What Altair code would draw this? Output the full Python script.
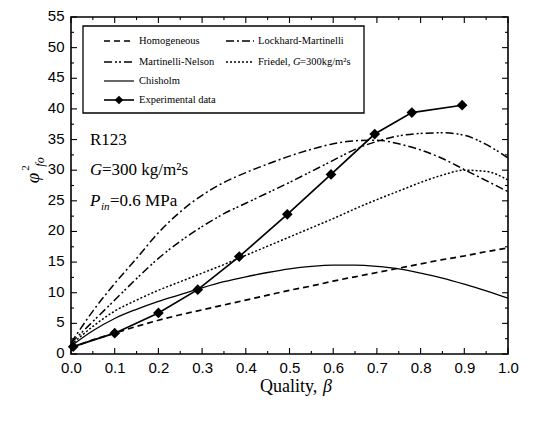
import altair as alt
import pandas as pd

# ---------------- data ----------------
beta_grid = [0.0, 0.05, 0.1, 0.15, 0.2, 0.25, 0.3, 0.35, 0.4, 0.45, 0.5,
             0.55, 0.6, 0.65, 0.7, 0.75, 0.8, 0.85, 0.9, 0.95, 1.0]
homogeneous = [1.0, 2.3, 3.4, 4.5, 5.5, 6.4, 7.2, 8.0, 8.8, 9.6, 10.4,
               11.1, 11.9, 12.6, 13.3, 14.0, 14.7, 15.4, 16.0, 16.7, 17.3]
lockhart = [1.8, 7.0, 11.5, 15.6, 19.8, 23.2, 25.9, 28.0, 29.6, 31.0, 32.3,
            33.4, 34.3, 34.8, 34.9, 34.3, 33.3, 31.9, 30.1, 28.3, 26.5]
nelson = [1.8, 5.3, 8.8, 12.3, 15.6, 18.4, 20.8, 22.9, 24.6, 26.3, 28.0,
          29.8, 31.6, 33.4, 34.7, 35.6, 36.0, 36.1, 35.7, 34.2, 32.0]
friedel = [1.5, 4.5, 7.0, 8.8, 10.4, 11.8, 13.2, 14.6, 16.1, 17.6, 19.1,
           20.6, 22.1, 23.7, 25.2, 26.6, 28.0, 29.2, 30.0, 29.8, 28.4]
chisholm = [1.3, 3.8, 5.8, 7.3, 8.6, 9.7, 10.8, 11.8, 12.6, 13.3, 13.9,
            14.3, 14.5, 14.5, 14.3, 13.9, 13.2, 12.4, 11.4, 10.3, 9.1]
exp_beta = [0.005, 0.1, 0.2, 0.29, 0.385, 0.495, 0.595, 0.695, 0.78, 0.895]
exp_phi = [1.2, 3.4, 6.7, 10.5, 15.9, 22.8, 29.3, 35.9, 39.4, 40.6]

x_major = [0.0, 0.1, 0.2, 0.3, 0.4, 0.5, 0.6, 0.7, 0.8, 0.9, 1.0]
x_minor = [0.05, 0.15, 0.25, 0.35, 0.45, 0.55, 0.65, 0.75, 0.85, 0.95]
y_major = [0, 5, 10, 15, 20, 25, 30, 35, 40, 45, 50, 55]
y_minor = [2.5, 7.5, 12.5, 17.5, 22.5, 27.5, 32.5, 37.5, 42.5, 47.5, 52.5]

W, H = 437, 337
SERIF = "Liberation Serif, Times New Roman, serif"
SANS = "Liberation Sans, Arial, sans-serif"

xs = alt.Scale(domain=[0, 1], nice=False, zero=False)
ys = alt.Scale(domain=[0, 55], nice=False)
xaxis = alt.Axis(values=x_major, format=".1f", title=None, ticks=False,
                 grid=False, domain=False, labelFlush=False, labelOverlap=False,
                 labelPadding=6, labelFont=SANS, labelFontSize=15,
                 labelColor="black")
yaxis = alt.Axis(values=y_major, title=None, ticks=False, grid=False, domain=False,
                 labelFlush=False, labelOverlap=False, labelPadding=7, labelOffset=-1.5,
                 labelFont=SANS, labelFontSize=15, labelColor="black")


def X(f):
    return alt.X(f, type="quantitative", scale=xs, axis=xaxis)


def Y(f):
    return alt.Y(f, type="quantitative", scale=ys, axis=yaxis)


def curve(vals, dash=None, width=1.4):
    df = pd.DataFrame({"beta": beta_grid, "phi": vals})
    kw = dict(color="black", strokeWidth=width, interpolate="monotone", clip=True)
    if dash:
        kw["strokeDash"] = dash
    return alt.Chart(df).mark_line(**kw).encode(x=X("beta"), y=Y("phi"))


dash_h = [6, 4]
dash_lm = [8, 3, 2, 3]
dash_mn = [8, 3, 2, 2, 2, 3]
dash_f = [2, 2]

layers = [
    curve(homogeneous, dash_h, 1.7),
    curve(lockhart, dash_lm, 1.5),
    curve(nelson, dash_mn, 1.5),
    curve(friedel, dash_f, 1.5),
    curve(chisholm, None, 1.3),
]

exp_df = pd.DataFrame({"beta": exp_beta, "phi": exp_phi})
layers.append(alt.Chart(exp_df).mark_line(color="black", strokeWidth=1.7)
              .encode(x=X("beta"), y=Y("phi")))
layers.append(alt.Chart(exp_df).mark_point(shape="diamond", filled=True, color="black",
                                           size=115, opacity=1)
              .encode(x=X("beta"), y=Y("phi")))


# inward ticks on all four sides
def xticks(vals, length):
    d = pd.DataFrame({"beta": vals})
    b = alt.Chart(d).mark_rule(color="black", strokeWidth=1.1).encode(
        x=X("beta"), y=alt.value(H), y2=alt.value(H - length))
    t = alt.Chart(d).mark_rule(color="black", strokeWidth=1.1).encode(
        x=X("beta"), y=alt.value(0), y2=alt.value(length))
    return [b, t]


def yticks(vals, length):
    d = pd.DataFrame({"phi": vals})
    l = alt.Chart(d).mark_rule(color="black", strokeWidth=1.1).encode(
        y=Y("phi"), x=alt.value(0), x2=alt.value(length))
    r = alt.Chart(d).mark_rule(color="black", strokeWidth=1.1).encode(
        y=Y("phi"), x=alt.value(W), x2=alt.value(W - length))
    return [l, r]


layers += xticks(x_major, 6) + xticks(x_minor, 3) + yticks(y_major, 6) + yticks(y_minor, 3)

one = pd.DataFrame({"a": [0]})


def txt(s, x, y, size=10.5, font=SERIF, style="normal", angle=None,
        align="left", baseline="middle"):
    kw = dict(font=font, fontSize=size, fontStyle=style, color="black",
              align=align, baseline=baseline)
    if angle is not None:
        kw["angle"] = angle
    return alt.Chart(one).mark_text(**kw).encode(
        x=alt.value(x), y=alt.value(y), text=alt.value(s))


def sample(x1, x2, y, dash=None, width=1.3):
    kw = dict(color="black", strokeWidth=width)
    if dash:
        kw["strokeDash"] = dash
    return alt.Chart(one).mark_rule(**kw).encode(
        x=alt.value(x1), x2=alt.value(x2), y=alt.value(y))


# legend box
layers.append(alt.Chart(one).mark_rect(fill="white", stroke="black", strokeWidth=1.3)
              .encode(x=alt.value(12), x2=alt.value(293), y=alt.value(9), y2=alt.value(96)))
r1, r2, r3, r4 = 24, 45, 64, 83
c1s, c1e, c1t = 33, 63, 68
c2s, c2e, c2t = 155, 183, 187
layers += [
    sample(c1s, c1e, r1, dash_h, 1.4), txt("Homogeneous", c1t, r1),
    sample(c2s, c2e, r1, dash_lm), txt("Lockhard-Martinelli", c2t, r1),
    sample(c1s, c1e, r2, dash_mn), txt("Martinelli-Nelson", c1t, r2),
    sample(c2s, c2e, r2, dash_f), txt("Friedel,", c2t, r2),
    txt("G", c2t + 35, r2, style="italic"), txt("=300kg/m²s", c2t + 42, r2),
    sample(c1s, c1e, r3, None, 1.2), txt("Chisholm", c1t, r3),
    sample(c1s, c1e, r4, None, 1.6), txt("Experimental data", c1t, r4),
]
layers.append(alt.Chart(one).mark_point(shape="diamond", filled=True, color="black",
                                        size=75, opacity=1)
              .encode(x=alt.value((c1s + c1e) / 2), y=alt.value(r4)))

# annotations
layers += [
    txt("R123", 19, 123, size=17),
    txt("G", 19, 153, size=17, style="italic"),
    txt("=300 kg/m²s", 31, 153, size=17),
    txt("P", 19, 184, size=17, style="italic"),
    txt("in", 30, 190, size=11, style="italic"),
    txt("=0.6 MPa", 39, 184, size=17),
]

# x-axis title "Quality, β"
layers += [
    txt("Quality,", 189, H + 38, size=18, baseline="alphabetic"),
    txt("β", 252, H + 38, size=18, style="italic", baseline="alphabetic"),
]

# y-axis title φ²_fo (rotated)
layers += [
    txt("φ", -38, 161, size=19, style="italic", angle=270, align="center"),
    txt("2", -45, 151, size=11, angle=270, align="center"),
    txt("fo", -31, 145, size=12, style="italic", angle=270, align="center"),
]

chart = alt.layer(*layers).properties(
    width=W, height=H, autosize="none",
    padding={"left": 63, "top": 9, "right": 27, "bottom": 59},
    background="white",
).configure_view(stroke="black", strokeWidth=1.6)

chart.save("out.html", embed_options={"renderer": "svg", "actions": False})
